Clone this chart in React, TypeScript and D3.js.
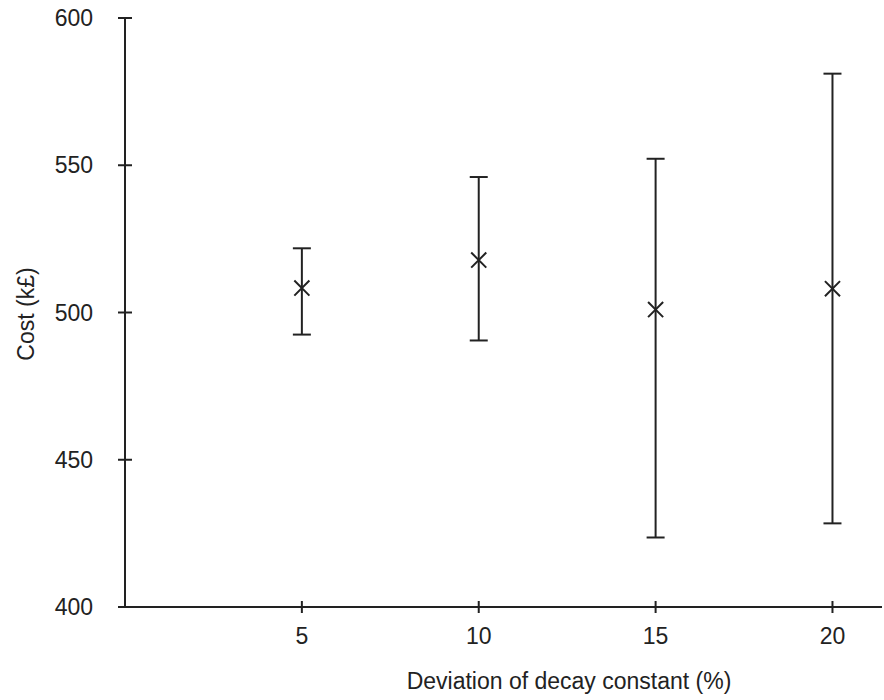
import { useEffect, useRef } from 'react';
import * as d3 from 'd3';

const deviations = [5, 10, 15, 20];
const means = [508.3, 517.8, 501.0, 508.1];
const upper = [521.8, 546.0, 552.2, 581.1];
const lower = [492.5, 490.5, 423.6, 428.4];
const xTicks = [5, 10, 15, 20];
const yTicks = [400, 450, 500, 550, 600];

const App = () => {
  const ref = useRef<SVGSVGElement>(null);

  useEffect(() => {
    const width = 884;
    const height = 700;
    const svg = d3.select(ref.current);
    svg.selectAll('*').remove();
    svg.attr('width', width).attr('height', height);

    const ink = '#222';
    const font = 'Liberation Sans, Arial, Helvetica, sans-serif';
    const fs = '23px';

    const x = d3.scaleLinear().domain([0, 21.4]).range([125, 882]);
    const y = d3.scaleLinear().domain([400, 600]).range([607, 18]);

    // axes lines
    svg.append('line')
      .attr('x1', x(0)).attr('x2', x(0))
      .attr('y1', y(600)).attr('y2', y(400))
      .attr('stroke', ink).attr('stroke-width', 2);
    svg.append('line')
      .attr('x1', x(0)).attr('x2', x(21.4))
      .attr('y1', y(400)).attr('y2', y(400))
      .attr('stroke', ink).attr('stroke-width', 2);

    // y ticks
    const yt = svg.append('g');
    yt.selectAll('line').data(yTicks).enter().append('line')
      .attr('x1', x(0) - 7).attr('x2', x(0) + 7)
      .attr('y1', d => y(d)).attr('y2', d => y(d))
      .attr('stroke', ink).attr('stroke-width', 2);
    yt.selectAll('text').data(yTicks).enter().append('text')
      .attr('x', x(0) - 32).attr('y', d => y(d))
      .attr('dy', '0.35em')
      .attr('text-anchor', 'end')
      .style('font-family', font).style('font-size', fs).attr('fill', ink)
      .text(d => d);

    // x ticks
    const xt = svg.append('g');
    xt.selectAll('line').data(xTicks).enter().append('line')
      .attr('x1', d => x(d)).attr('x2', d => x(d))
      .attr('y1', y(400) - 6).attr('y2', y(400) + 6)
      .attr('stroke', ink).attr('stroke-width', 2);
    xt.selectAll('text').data(xTicks).enter().append('text')
      .attr('x', d => x(d)).attr('y', 636)
      .attr('dy', '0.35em')
      .attr('text-anchor', 'middle')
      .style('font-family', font).style('font-size', fs).attr('fill', ink)
      .text(d => d);

    // axis titles
    svg.append('text')
      .attr('x', 569).attr('y', 681)
      .attr('dy', '0.35em')
      .attr('text-anchor', 'middle')
      .style('font-family', font).style('font-size', fs).attr('fill', ink)
      .text('Deviation of decay constant (%)');
    svg.append('text')
      .attr('transform', `translate(26, 314) rotate(-90)`)
      .attr('dy', '0.35em')
      .attr('text-anchor', 'middle')
      .style('font-family', font).style('font-size', fs).attr('fill', ink)
      .text('Cost (k£)');

    // error bars
    const data = deviations.map((d, i) => ({ d, m: means[i], hi: upper[i], lo: lower[i] }));
    const bars = svg.append('g').selectAll('g').data(data).enter().append('g');
    bars.append('line')
      .attr('x1', p => x(p.d)).attr('x2', p => x(p.d))
      .attr('y1', p => y(p.hi)).attr('y2', p => y(p.lo))
      .attr('stroke', ink).attr('stroke-width', 2);
    bars.append('line')
      .attr('x1', p => x(p.d) - 9).attr('x2', p => x(p.d) + 9)
      .attr('y1', p => y(p.hi)).attr('y2', p => y(p.hi))
      .attr('stroke', ink).attr('stroke-width', 2);
    bars.append('line')
      .attr('x1', p => x(p.d) - 9).attr('x2', p => x(p.d) + 9)
      .attr('y1', p => y(p.lo)).attr('y2', p => y(p.lo))
      .attr('stroke', ink).attr('stroke-width', 2);

    // cross markers
    const cross = d3.symbol().type(d3.symbolTimes).size(150);
    bars.append('path')
      .attr('transform', p => `translate(${x(p.d)}, ${y(p.m)})`)
      .attr('d', cross)
      .attr('fill', 'none').attr('stroke', ink).attr('stroke-width', 2);
  }, []);

  return (
    <div style={{ position: 'absolute', left: 0, top: 0 }}>
      <svg ref={ref}></svg>
    </div>
  );
};

export default App;
